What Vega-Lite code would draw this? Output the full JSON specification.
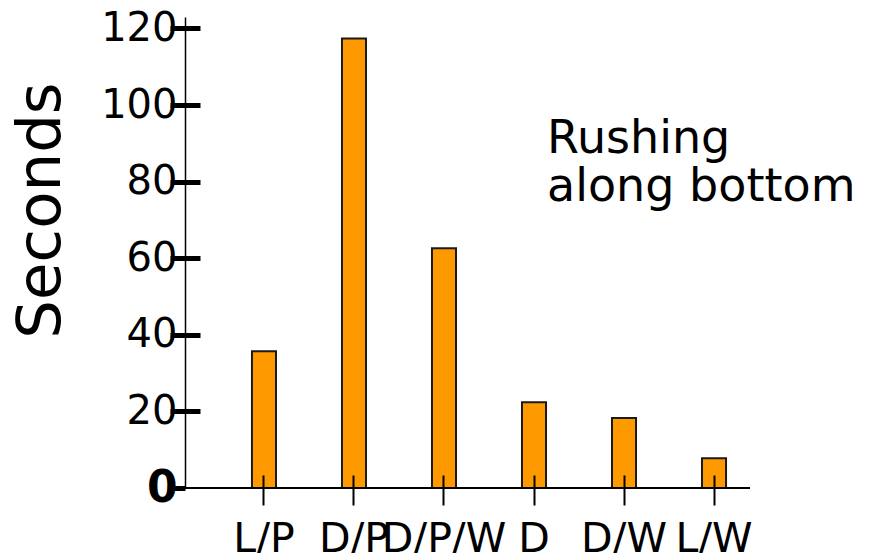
{
  "$schema": "https://vega.github.io/schema/vega-lite/v6.json",
  "autosize": "none",
  "width": 565,
  "height": 471,
  "padding": {"left": 185, "top": 17, "right": 122, "bottom": 65},
  "background": "white",
  "config": {"view": {"stroke": null}, "font": "DejaVu Sans"},
  "datasets": {
    "bars": [
      {"cat": "L/P", "sec": 35.7},
      {"cat": "D/P", "sec": 117.4},
      {"cat": "D/P/W", "sec": 62.6},
      {"cat": "D", "sec": 22.4},
      {"cat": "D/W", "sec": 18.3},
      {"cat": "L/W", "sec": 7.8}
    ],
    "note": [
      {"cat": "D", "sec": 87.4, "label": "Rushing\nalong bottom"}
    ]
  },
  "layer": [
    {
      "data": {"name": "bars"},
      "mark": {"type": "bar", "color": "#FF9900", "stroke": "#1a1a1a", "strokeWidth": 2},
      "encoding": {
        "x": {"field": "cat", "type": "nominal", "sort": null,
          "scale": {"domain": ["L/P", "D/P", "D/P/W", "D", "D/W", "L/W"], "range": [0, 608], "paddingInner": 0.733, "paddingOuter": 0.744},
          "axis": {"orient": "bottom", "title": null, "domain": false, "tickSize": 17, "tickWidth": 2, "tickColor": "black",
            "labelAngle": 0, "labelFontSize": 41, "labelFont": "DejaVu Sans", "labelColor": "black", "labelPadding": 14,
            "labelOverlap": false, "labelBaseline": "top", "labelLimit": 0}},
        "y": {"field": "sec", "type": "quantitative",
          "scale": {"domain": [0, 123], "nice": false, "zero": true},
          "axis": {"values": [0, 20, 40, 60, 80, 100, 120], "grid": false, "domainColor": "black", "domainWidth": 1.5,
            "tickSize": 15, "tickWidth": 5, "tickColor": "black",
            "labelFontSize": {"expr": "datum.value == 0 ? 44 : 40"},
            "labelFontWeight": {"expr": "datum.value == 0 ? 'bold' : 'normal'"},
            "labelColor": "black", "labelPadding": -7, "labelFont": "DejaVu Sans",
            "title": "Seconds", "titleFontSize": 61, "titleFontWeight": "normal", "titleColor": "black", "titleFont": "DejaVu Sans",
            "titlePadding": 28, "titleY": 193}}
      }
    },
    {
      "data": {"name": "bars"},
      "mark": {"type": "bar", "opacity": 0},
      "encoding": {
        "x": {"field": "cat", "type": "nominal", "sort": null,
          "axis": {"orient": "bottom", "offset": -13, "title": null, "domain": false, "labels": false, "tickSize": 13, "tickWidth": 2, "tickColor": "black", "zindex": 1}},
        "y": {"field": "sec", "type": "quantitative",
          "axis": {"orient": "left", "offset": -15, "values": [20, 40, 60, 80, 100, 120], "grid": false, "domain": false, "labels": false, "title": null,
            "tickSize": 15, "tickWidth": 5, "tickColor": "black", "zindex": 1}}
      }
    },
    {
      "data": {"name": "note"},
      "mark": {"type": "rule", "color": "black", "strokeWidth": 2},
      "encoding": {"y": {"datum": 0, "type": "quantitative", "axis": null}}
    },
    {
      "data": {"name": "note"},
      "mark": {"type": "text", "align": "left", "baseline": "alphabetic", "fontSize": 46, "font": "DejaVu Sans", "color": "black", "lineHeight": 48, "dx": 13, "lineBreak": "\n"},
      "encoding": {
        "x": {"field": "cat", "type": "nominal", "axis": null},
        "y": {"field": "sec", "type": "quantitative", "axis": null},
        "text": {"field": "label"}
      }
    }
  ],
  "resolve": {"axis": {"x": "independent", "y": "independent"}}
}
